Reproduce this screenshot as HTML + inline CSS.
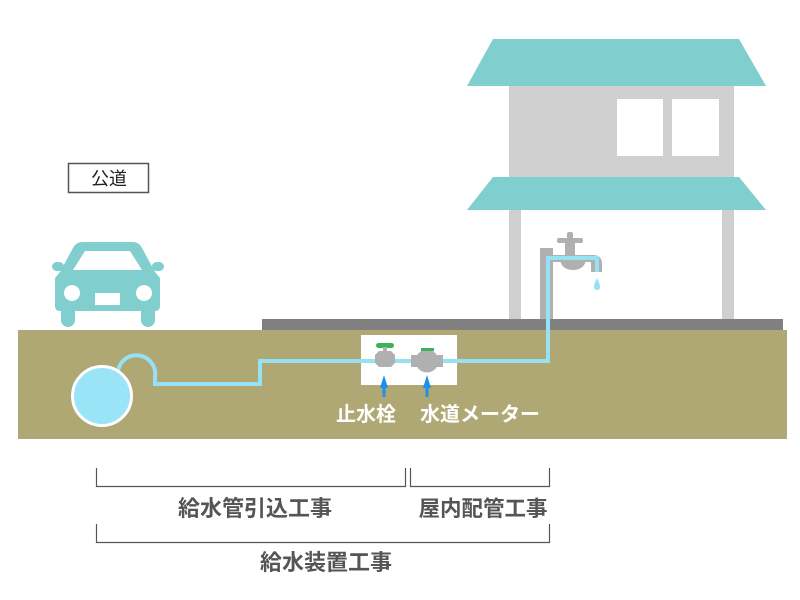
<!DOCTYPE html>
<html><head><meta charset="utf-8"><style>
html,body{margin:0;padding:0;background:#fff;}
svg{display:block;}
text{font-family:"Liberation Sans","Noto Sans CJK JP",sans-serif;}
</style></head><body>
<svg width="800" height="600" viewBox="0 0 800 600" xmlns="http://www.w3.org/2000/svg">
<!-- House -->
<rect x="509" y="86" width="225" height="92" fill="#d0d0d0"/>
<rect x="617" y="99" width="46" height="57" fill="#fff"/>
<rect x="672" y="99" width="47" height="57" fill="#fff"/>
<polygon points="493,39 739,39 766,86 467,86" fill="#80cece"/>
<polygon points="493,177 739,177 766,210 467,210" fill="#80cece"/>
<rect x="509" y="210" width="12" height="110" fill="#cfcfcf"/>
<rect x="722" y="210" width="12" height="110" fill="#cfcfcf"/>
<!-- Faucet -->
<rect x="540" y="248" width="13" height="72" fill="#b0b0b0"/>
<path d="M548 255 L593 255 Q602 255 602 264 L602 272 L591 272 L591 262 L553 262 Z" fill="#b0b0b0"/>
<path d="M560 260 L586 260 Q584 270 573 270 Q562 270 560 260 Z" fill="#b0b0b0"/>
<rect x="565" y="242" width="10" height="14" fill="#b0b0b0"/>
<rect x="557" y="238" width="26" height="5" rx="2" fill="#b0b0b0"/>
<rect x="567" y="232" width="6" height="7" rx="2" fill="#b0b0b0"/>
<path d="M597 278 Q594 284 594 287 Q594 290 597 290 Q600 290 600 287 Q600 284 597 278 Z" fill="#97e1f5"/>
<!-- Dark strip -->
<rect x="262" y="319" width="521" height="11" fill="#808080"/>
<!-- Ground -->
<rect x="18" y="330" width="769" height="109" fill="#b0a874"/>
<!-- Pipe -->
<path d="M118 371 A18 18 0 0 1 155 377 L155 384 L260 384 L260 361 L548 361 L548 258 L597 258 L597 272" fill="none" stroke="#97e1f5" stroke-width="4"/>
<!-- Meter box -->
<rect x="361" y="335" width="96" height="50" fill="#fff"/>
<line x1="361" y1="361" x2="457" y2="361" stroke="#97e1f5" stroke-width="4"/>
<!-- Valve -->
<rect x="376" y="343" width="18" height="5" rx="2.5" fill="#3cb35a"/>
<rect x="383" y="347" width="4" height="5" fill="#b0b0b0"/>
<polygon points="379,351 391,351 395,355 395,363 391,367 379,367 375,363 375,355" fill="#b0b0b0"/>
<!-- Meter -->
<circle cx="427" cy="361" r="11.5" fill="#b0b0b0"/>
<rect x="411" y="355" width="32" height="12" fill="#b0b0b0"/>
<rect x="421" y="348" width="13" height="3" fill="#3cb35a"/>
<!-- Arrows -->
<polygon points="384,375 380,388 388,388" fill="#1e90e8"/>
<rect x="382.5" y="386" width="3" height="11" fill="#1e90e8"/>
<polygon points="427,375 423,388 431,388" fill="#1e90e8"/>
<rect x="425.5" y="386" width="3" height="11" fill="#1e90e8"/>
<!-- Tank -->
<circle cx="102" cy="396" r="29.5" fill="#9ae4f8" stroke="#fff" stroke-width="3"/>
<!-- Car -->
<g fill="#80cece">
<rect x="61" y="305" width="14" height="22" rx="7"/>
<rect x="141" y="305" width="14" height="22" rx="7"/>
<path d="M83 242 L133 242 Q139 242 142 248 L155 272 L160 278 L160 306 Q160 311 155 311 L60 311 Q55 311 55 306 L55 278 L60 272 L73 248 Q76 242 83 242 Z"/>
<rect x="52" y="262" width="12" height="9" rx="4.5"/>
<rect x="152" y="262" width="12" height="9" rx="4.5"/>
</g>
<polygon points="85,251 130,251 142,270 73,270" fill="#fff"/>
<circle cx="72" cy="293" r="8" fill="#fff"/>
<circle cx="144" cy="293" r="8" fill="#fff"/>
<rect x="95" y="293" width="25" height="12" fill="#fff"/>
<!-- Road label -->
<rect x="68.5" y="163.5" width="80" height="29" fill="#fff" stroke="#555" stroke-width="1.5"/>
<text x="109" y="185" font-size="18" text-anchor="middle" fill="#222">公道</text>
<!-- Labels -->
<text x="366" y="421" font-size="20" font-weight="bold" text-anchor="middle" fill="#fff">止水栓</text>
<text x="480" y="421" font-size="20" font-weight="bold" text-anchor="middle" fill="#fff">水道メーター</text>
<!-- Brackets -->
<g fill="none" stroke="#555" stroke-width="1.2">
<path d="M96.5 468 L96.5 486.5 L405.5 486.5 L405.5 468"/>
<path d="M410.5 468 L410.5 486.5 L549.5 486.5 L549.5 468"/>
<path d="M96.5 524 L96.5 542.5 L549.5 542.5 L549.5 524"/>
</g>
<text x="255" y="516" font-size="22" font-weight="bold" text-anchor="middle" fill="#555">給水管引込工事</text>
<text x="483" y="516" font-size="21.5" font-weight="bold" text-anchor="middle" fill="#555">屋内配管工事</text>
<text x="326" y="570" font-size="22" font-weight="bold" text-anchor="middle" fill="#555">給水装置工事</text>
</svg>
</body></html>
